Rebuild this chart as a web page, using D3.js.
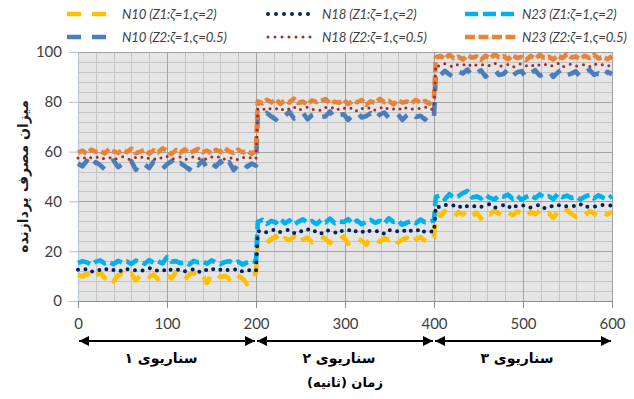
<!DOCTYPE html>
<html>
<head>
<meta charset="utf-8">
<script src="https://cdn.jsdelivr.net/npm/d3@7"></script>
<style>
  html, body { margin: 0; padding: 0; background: #fff; }
  svg { display: block; }
</style>
</head>
<body>
<svg id="chart" width="634" height="399"></svg>
<script>
// Scenario boundaries (seconds) and axis ticks
const scenarioBounds = [[0, 200], [202, 400], [402, 600]];
const scenarioLabels = ["سناریوی ۱", "سناریوی ۲", "سناریوی ۳"];
const xTicks = [0, 100, 200, 300, 400, 500, 600];
const yTicks = [0, 20, 40, 60, 80, 100];
const xTitle = "زمان (ثانیه)";
const yTitle = "میزان مصرف پردازنده";

// CPU usage samples, one array per scenario, sampled evenly across each scenario
const n10z1 = [
  [10.5, 9.8, 11.2, 8.6, 10.1, 11.5, 9.2, 10.8, 7.9, 10.4, 11.1, 9.5, 10.9, 8.3, 10.2, 11.4, 9.7, 10.6, 8.8, 11.0, 10.3, 9.1, 11.6, 10.0, 8.5, 10.7, 11.3, 9.4, 10.5, 7.2, 10.9, 11.2, 9.6, 10.1, 8.9, 11.4, 10.2, 9.0, 6.8, 10.6, 11.0],
  [24.8, 25.6, 23.4, 24.9, 26.0, 23.1, 25.2, 24.4, 25.8, 22.9, 24.7, 25.5, 23.6, 24.2, 26.1, 24.9, 23.3, 25.4, 24.6, 25.9, 23.0, 24.8, 25.3, 24.1, 22.7, 25.6, 24.9, 23.8, 25.2, 24.5, 26.0, 23.5, 24.7, 25.4, 22.8, 24.9, 25.7, 24.2, 23.1, 25.5],
  [35.4, 34.2, 36.1, 35.0, 33.6, 35.8, 34.7, 36.3, 34.0, 35.5, 33.2, 35.9, 34.8, 36.4, 35.1, 33.8, 35.6, 34.4, 36.0, 35.2, 33.5, 35.7, 34.9, 36.2, 34.3, 35.4, 33.4, 35.8, 34.6, 36.5, 35.0, 33.9, 35.5, 34.5, 36.1, 35.3, 33.7, 35.6, 34.8, 35.9]
];
const n18z1 = [
  [12.6, 12.1, 13.0, 11.7, 12.8, 12.3, 13.2, 11.9, 12.5, 12.9, 11.6, 12.7, 13.1, 12.2, 11.8, 12.6, 13.3, 12.0, 12.4, 12.9, 11.5, 12.8, 12.2, 13.0, 11.9, 12.5, 12.7, 11.4, 12.9, 12.3, 13.2, 12.0, 12.6, 11.8, 12.8, 12.4, 13.1, 11.7, 12.5, 12.2, 11.9],
  [27.9, 28.5, 27.4, 28.2, 29.0, 27.6, 28.1, 28.7, 27.2, 28.4, 27.8, 28.9, 27.5, 28.3, 27.0, 28.6, 28.0, 27.3, 28.8, 27.7, 28.2, 29.1, 27.4, 28.0, 27.1, 28.5, 27.9, 28.3, 26.9, 28.6, 27.6, 28.1, 28.8, 27.3, 28.4, 27.8, 29.2, 27.5, 28.0, 27.7],
  [38.2, 37.6, 38.7, 37.9, 38.4, 37.3, 38.8, 38.0, 37.5, 38.6, 37.8, 38.3, 39.0, 37.4, 38.1, 38.5, 37.2, 38.9, 37.7, 38.2, 38.6, 37.5, 38.0, 38.8, 37.3, 38.4, 37.9, 38.7, 37.6, 38.1, 38.5, 37.8, 38.9, 37.4, 38.3, 38.0, 37.7, 38.6, 38.2, 38.4]
];
const n23z1 = [
  [15.2, 16.0, 15.5, 14.6, 15.8, 16.3, 15.1, 15.7, 14.8, 16.1, 15.4, 15.9, 14.9, 16.2, 15.6, 15.0, 16.4, 15.3, 15.9, 15.1, 17.6, 15.8, 16.0, 15.2, 15.6, 14.7, 16.1, 15.5, 15.9, 15.0, 16.3, 15.4, 14.8, 15.7, 16.0, 15.3, 15.8, 14.6, 15.5, 16.2, 15.7],
  [31.8, 32.6, 31.0, 32.2, 31.5, 33.0, 31.2, 32.4, 30.7, 31.9, 32.8, 31.4, 32.1, 30.9, 32.5, 31.6, 33.1, 31.3, 32.0, 31.7, 32.9, 31.1, 32.3, 30.8, 31.9, 32.6, 31.4, 32.2, 31.0, 33.2, 31.8, 32.4, 30.6, 31.5, 32.1, 31.3, 32.7, 31.6, 31.9, 32.3],
  [41.8, 42.4, 40.9, 42.9, 41.5, 42.1, 43.3, 44.2, 41.6, 42.0, 41.2, 42.6, 41.4, 40.8, 42.3, 41.9, 42.7, 41.1, 42.2, 40.7, 41.8, 42.5, 41.3, 42.8, 41.6, 42.1, 40.9, 43.0, 41.7, 42.3, 41.4, 42.0, 40.8, 41.9, 42.6, 41.2, 42.4, 41.5, 40.9, 42.2]
];
const n10z2 = [
  [55.2, 54.1, 56.3, 53.5, 55.8, 54.6, 52.9, 55.5, 56.4, 53.8, 55.0, 54.3, 56.1, 52.7, 55.6, 54.8, 53.4, 56.0, 55.1, 53.1, 54.9, 56.2, 53.7, 55.4, 54.2, 52.8, 55.9, 54.5, 56.5, 53.3, 55.3, 54.0, 56.1, 53.6, 55.7, 52.6, 54.7, 55.8, 53.9, 55.2, 54.4],
  [74.8, 73.6, 75.5, 74.1, 72.9, 75.2, 74.4, 76.0, 73.3, 74.9, 75.6, 73.0, 74.6, 75.3, 73.8, 74.2, 76.1, 73.4, 74.7, 75.0, 72.8, 74.5, 75.8, 73.7, 74.3, 75.4, 73.1, 74.9, 75.7, 73.5, 74.1, 75.1, 72.7, 74.6, 75.9, 73.9, 74.4, 72.9, 75.2, 74.0],
  [91.8, 90.6, 92.4, 91.0, 89.8, 92.1, 91.4, 93.0, 90.3, 91.7, 92.6, 90.1, 91.5, 92.9, 90.8, 91.2, 93.1, 90.4, 91.9, 92.3, 89.7, 91.6, 92.7, 90.5, 91.1, 92.5, 90.0, 91.8, 93.2, 90.7, 91.3, 92.2, 89.9, 91.6, 92.8, 90.9, 91.4, 89.6, 92.0, 91.1]
];
const n18z2 = [
  [57.4, 57.9, 56.8, 57.6, 58.1, 56.9, 57.3, 57.8, 56.6, 57.5, 58.0, 57.1, 56.7, 57.7, 58.2, 57.0, 57.4, 56.8, 57.9, 57.2, 58.1, 56.9, 57.5, 57.8, 56.7, 57.3, 58.0, 57.1, 57.6, 56.8, 57.9, 57.4, 58.2, 56.9, 57.2, 57.7, 56.6, 57.5, 58.0, 57.3, 57.0],
  [77.2, 76.6, 77.8, 76.9, 77.4, 76.3, 77.6, 77.0, 78.0, 76.5, 77.3, 77.9, 76.8, 77.1, 76.4, 77.7, 77.2, 78.1, 76.7, 77.5, 76.9, 77.8, 76.2, 77.4, 77.0, 77.9, 76.6, 77.3, 78.2, 76.8, 77.1, 77.6, 76.5, 77.8, 77.2, 76.9, 77.5, 78.0, 76.7, 77.3],
  [94.8, 94.2, 95.3, 94.5, 93.9, 95.1, 94.7, 95.5, 94.0, 94.9, 95.2, 94.3, 94.6, 95.6, 94.1, 94.8, 95.0, 93.8, 94.7, 95.4, 94.4, 95.1, 94.0, 94.9, 95.3, 94.2, 94.6, 95.5, 93.9, 94.8, 95.2, 94.3, 94.7, 95.0, 94.1, 95.4, 94.5, 94.9, 94.2, 95.1]
];
const n23z2 = [
  [59.6, 60.4, 59.1, 60.8, 59.9, 60.2, 59.3, 61.0, 60.1, 59.5, 60.6, 59.8, 61.2, 59.4, 60.0, 60.7, 59.2, 60.5, 59.7, 61.3, 60.3, 59.0, 60.6, 59.6, 60.9, 59.4, 60.2, 61.1, 59.8, 60.4, 59.3, 60.7, 59.9, 61.4, 60.0, 59.5, 60.8, 59.7, 60.3, 59.2, 60.1],
  [80.2, 79.4, 80.8, 79.8, 81.0, 79.2, 80.5, 79.7, 81.3, 79.5, 80.1, 78.9, 80.6, 79.9, 80.4, 81.1, 79.3, 80.0, 79.6, 80.9, 79.1, 80.3, 79.8, 80.7, 78.8, 80.2, 79.5, 81.2, 79.9, 80.4, 79.0, 80.6, 79.7, 80.1, 79.4, 80.8, 79.6, 80.3, 79.2, 81.4],
  [97.8, 98.4, 97.2, 98.9, 97.5, 98.1, 97.0, 98.6, 97.7, 98.2, 96.9, 98.5, 97.4, 99.0, 97.9, 98.3, 97.1, 98.7, 97.6, 98.0, 96.8, 98.4, 97.3, 98.8, 97.7, 98.1, 97.0, 98.6, 97.5, 99.1, 97.8, 98.2, 97.2, 98.5, 97.6, 98.9, 97.4, 98.0, 97.1, 98.3]
];

// Series definitions (drawing order: later ones on top)
const series = [
  { name: "N10 (Z1:ζ=1,ς=2)",   data: n10z1, color: "#FFC000", width: 4.6, dash: "14,11", cap: "butt",  row: 0, col: 0 },
  { name: "N23 (Z1:ζ=1,ς=2)",   data: n23z1, color: "#00B0F0", width: 4.6, dash: "13,5",  cap: "butt",  row: 0, col: 2 },
  { name: "N18 (Z1:ζ=1,ς=2)",   data: n18z1, color: "#002060", width: 4,   dash: "0,8",   cap: "round", row: 0, col: 1 },
  { name: "N10 (Z2:ζ=1,ς=0.5)", data: n10z2, color: "#4A7EBB", width: 4.6, dash: "14,11", cap: "butt",  row: 1, col: 0 },
  { name: "N23 (Z2:ζ=1,ς=0.5)", data: n23z2, color: "#E8843A", width: 4.6, dash: "10,3.5", cap: "butt", row: 1, col: 2 },
  { name: "N18 (Z2:ζ=1,ς=0.5)", data: n18z2, color: "#9B2F2C", width: 3,   dash: "0,7",   cap: "round", row: 1, col: 1 }
];

const svg = d3.select("#chart");
const plot = { left: 78, right: 612, top: 52, bottom: 301 };

const x = d3.scaleLinear().domain([0, 600]).range([plot.left, plot.right]);
const y = d3.scaleLinear().domain([0, 100]).range([plot.bottom, plot.top]);

// Plot background
svg.append("rect")
  .attr("x", plot.left).attr("y", plot.top)
  .attr("width", plot.right - plot.left).attr("height", plot.bottom - plot.top)
  .attr("fill", "#e5e5e5");

// Gridlines: minor then major
const grid = svg.append("g").attr("shape-rendering", "crispEdges");
const xMinor = d3.range(0, 601, 20).filter(v => v % 100 !== 0);
const yMinor = d3.range(0, 101, 4).filter(v => v % 20 !== 0);
grid.selectAll(".xmin").data(xMinor).join("line")
  .attr("x1", d => Math.round(x(d)) + 0.5).attr("x2", d => Math.round(x(d)) + 0.5)
  .attr("y1", plot.top).attr("y2", plot.bottom)
  .attr("stroke", "#c4c4c4").attr("stroke-width", 1);
grid.selectAll(".ymin").data(yMinor).join("line")
  .attr("x1", plot.left).attr("x2", plot.right)
  .attr("y1", d => Math.round(y(d)) + 0.5).attr("y2", d => Math.round(y(d)) + 0.5)
  .attr("stroke", "#c4c4c4").attr("stroke-width", 1);
grid.selectAll(".xmaj").data(xTicks.filter(v => v > 0)).join("line")
  .attr("x1", d => Math.round(x(d)) + 0.5).attr("x2", d => Math.round(x(d)) + 0.5)
  .attr("y1", plot.top).attr("y2", plot.bottom)
  .attr("stroke", "#a3a3a3").attr("stroke-width", 1);
grid.selectAll(".ymaj").data(yTicks.filter(v => v > 0)).join("line")
  .attr("x1", plot.left).attr("x2", plot.right)
  .attr("y1", d => Math.round(y(d)) + 0.5).attr("y2", d => Math.round(y(d)) + 0.5)
  .attr("stroke", "#a3a3a3").attr("stroke-width", 1);

// Axes
const numFont = "Lato, 'Open Sans', sans-serif";
const yAxis = svg.append("g")
  .attr("transform", `translate(${plot.left},0)`)
  .call(d3.axisLeft(y).tickValues(yTicks).tickSize(9).tickPadding(7));
yAxis.select(".domain").attr("stroke", "#b8c7dc").attr("stroke-width", 1.2);
yAxis.selectAll(".tick line").attr("stroke", "#b8c7dc").attr("stroke-width", 1.2);
yAxis.selectAll(".tick text")
  .attr("font-family", numFont).attr("font-size", 15).attr("fill", "#404040");

const xAxis = svg.append("g")
  .attr("transform", `translate(0,${plot.bottom})`)
  .call(d3.axisBottom(x).tickValues(xTicks).tickSize(7).tickPadding(10));
xAxis.select(".domain").attr("stroke", "#8c8c8c").attr("stroke-width", 1);
xAxis.selectAll(".tick line").attr("stroke", "#8c8c8c").attr("stroke-width", 1);
xAxis.selectAll(".tick text")
  .attr("font-family", numFont).attr("font-size", 15).attr("fill", "#404040");

// Series lines
const points = s => s.data.flatMap((seg, k) => {
  const [t0, t1] = scenarioBounds[k];
  return seg.map((v, i) => ({ t: t0 + (t1 - t0) * i / (seg.length - 1), v }));
});
const line = d3.line().x(d => x(d.t)).y(d => y(d.v));
svg.append("g").selectAll("path").data(series).join("path")
  .attr("d", s => line(points(s)))
  .attr("fill", "none")
  .attr("stroke", s => s.color)
  .attr("stroke-width", s => s.width)
  .attr("stroke-dasharray", s => s.dash)
  .attr("stroke-linecap", s => s.cap)
  .attr("stroke-linejoin", "round");

// Legend
const legCols = [
  { x0: 67, x1: 107, tx: 122 },
  { x0: 268, x1: 316, tx: 322 },
  { x0: 465, x1: 516, tx: 522 }
];
const legRows = [14, 37];
const legend = svg.append("g");
series.forEach(s => {
  const c = legCols[s.col], ry = legRows[s.row];
  legend.append("line")
    .attr("x1", c.x0).attr("x2", c.x1).attr("y1", ry).attr("y2", ry)
    .attr("stroke", s.color).attr("stroke-width", s.width)
    .attr("stroke-dasharray", s.dash).attr("stroke-linecap", s.cap);
  legend.append("text")
    .attr("x", c.tx).attr("y", ry).attr("dy", "0.35em")
    .attr("font-family", numFont).attr("font-style", "italic")
    .attr("font-size", 13.2).attr("letter-spacing", -0.15).attr("fill", "#404040")
    .text(s.name);
});

// Y-axis title
const faFont = "'DejaVu Sans', sans-serif";
svg.append("text")
  .attr("transform", `translate(23,${(plot.top + plot.bottom) / 2}) rotate(-90)`)
  .attr("text-anchor", "middle").attr("dy", "0.35em")
  .attr("font-family", faFont).attr("font-weight", "bold").attr("font-size", 14)
  .attr("fill", "#1a1a1a")
  .text(yTitle);

// Scenario span arrows
const defs = svg.append("defs");
["start", "end"].forEach(id => {
  defs.append("marker")
    .attr("id", "arrow-" + id)
    .attr("viewBox", "0 0 10 10").attr("refX", id === "end" ? 10 : 0).attr("refY", 5)
    .attr("markerWidth", 10).attr("markerHeight", 10)
    .attr("markerUnits", "userSpaceOnUse")
    .attr("orient", "auto")
    .append("path")
    .attr("d", id === "end" ? "M0,0 L10,5 L0,10 Z" : "M10,0 L0,5 L10,10 Z")
    .attr("fill", "#000");
});
const arrowY = 341;
const scen = svg.append("g");
scenarioBounds.forEach((b, k) => {
  const a0 = k * 200, a1 = (k + 1) * 200;
  scen.append("line")
    .attr("x1", x(a0) + 1).attr("x2", x(a1) - 1)
    .attr("y1", arrowY).attr("y2", arrowY)
    .attr("stroke", "#000").attr("stroke-width", 2)
    .attr("marker-start", "url(#arrow-start)")
    .attr("marker-end", "url(#arrow-end)");
  scen.append("text")
    .attr("x", x((a0 + a1) / 2) - 6).attr("y", 358).attr("dy", "0.35em")
    .attr("text-anchor", "middle")
    .attr("font-family", faFont).attr("font-weight", "bold").attr("font-size", 14)
    .attr("fill", "#000")
    .text(scenarioLabels[k]);
});

// X-axis title
svg.append("text")
  .attr("x", x(300)).attr("y", 382).attr("dy", "0.35em")
  .attr("text-anchor", "middle")
  .attr("font-family", faFont).attr("font-weight", "bold").attr("font-size", 13)
  .attr("fill", "#000")
  .text(xTitle);
</script>
</body>
</html>
